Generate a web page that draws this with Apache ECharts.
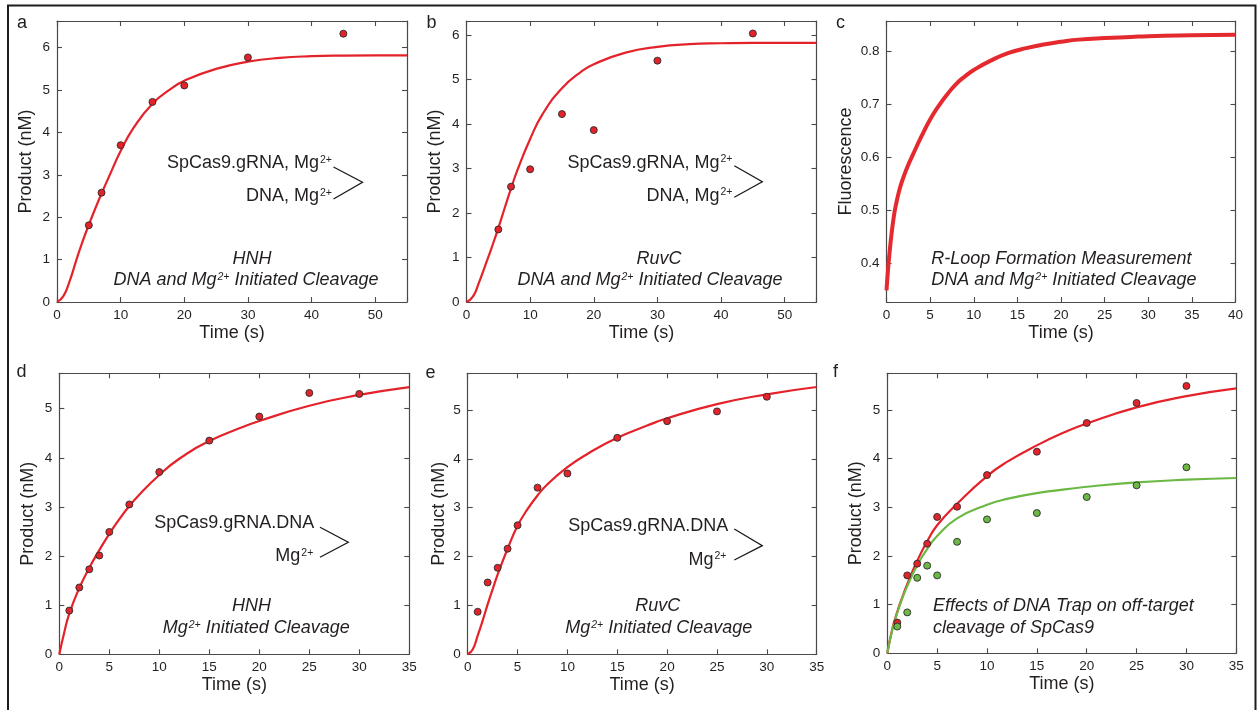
<!DOCTYPE html>
<html>
<head>
<meta charset="utf-8">
<script src="https://cdn.jsdelivr.net/npm/echarts@6/dist/echarts.min.js"></script>
<style>
  html, body { margin: 0; padding: 0; background: #ffffff; }
  #chart { width: 1258px; height: 710px; }
</style>
</head>
<body>
<div id="chart"></div>
<script>
// ---- a: HNH, DNA and Mg2+ initiated cleavage ----
const timeA = [5, 7, 10, 15, 20, 30, 45];
const prodA = [1.81, 2.58, 3.70, 4.72, 5.11, 5.77, 6.33];
const fitTimeA = [0, 1, 2, 3, 4, 5, 6, 7, 8, 10, 12, 15, 18, 20, 25, 30, 35, 40, 45, 50, 55];
const fitA = [0, 0.14, 0.50, 0.97, 1.42, 1.82, 2.20, 2.56, 2.90, 3.56, 4.10, 4.68, 5.04, 5.22, 5.50, 5.67, 5.76, 5.80, 5.815, 5.82, 5.82];

// ---- b: RuvC, DNA and Mg2+ initiated cleavage ----
const timeB = [5, 7, 10, 15, 20, 30, 45];
const prodB = [1.63, 2.59, 2.98, 4.22, 3.86, 5.42, 6.03];
const fitTimeB = [0, 1, 2, 3, 4, 5, 6, 7, 8, 10, 12, 15, 18, 20, 25, 30, 35, 40, 45, 50, 55];
const fitB = [0, 0.12, 0.45, 0.84, 1.24, 1.66, 2.11, 2.55, 2.96, 3.66, 4.23, 4.80, 5.17, 5.34, 5.60, 5.73, 5.79, 5.81, 5.82, 5.82, 5.82];

// ---- c: R-loop formation (fluorescence trace) ----
const timeC = [0, 0.2, 0.4, 0.6, 0.8, 1, 1.5, 2, 2.5, 3, 4, 5, 6, 7, 8, 9, 10, 12, 14, 16, 18, 20, 22, 25, 28, 30, 35, 40];
const fluorC = [0.350, 0.394, 0.429, 0.459, 0.484, 0.504, 0.540, 0.565, 0.586, 0.604, 0.639, 0.671, 0.697, 0.719, 0.738, 0.752, 0.764, 0.782, 0.796, 0.805, 0.812, 0.817, 0.821, 0.824, 0.826, 0.8275, 0.829, 0.830];

// ---- d: HNH, Mg2+ initiated cleavage ----
const timeD = [1, 2, 3, 4, 5, 7, 10, 15, 20, 25, 30];
const prodD = [0.89, 1.36, 1.73, 2.01, 2.49, 3.05, 3.71, 4.35, 4.84, 5.32, 5.30];
const fitTimeD = [0, 0.5, 1, 2, 3, 4, 5, 6, 7, 8, 10, 12, 15, 18, 20, 25, 30, 35];
const fitD = [0, 0.45, 0.83, 1.35, 1.76, 2.12, 2.45, 2.75, 3.02, 3.25, 3.65, 3.98, 4.34, 4.60, 4.75, 5.06, 5.28, 5.44];

// ---- e: RuvC, Mg2+ initiated cleavage ----
const timeE = [1, 2, 3, 4, 5, 7, 10, 15, 20, 25, 30];
const prodE = [0.87, 1.47, 1.77, 2.16, 2.64, 3.41, 3.70, 4.43, 4.77, 4.97, 5.27];
const fitTimeE = [0, 0.5, 1, 1.5, 2, 2.5, 3, 4, 5, 6, 7, 8, 10, 12, 15, 18, 20, 25, 30, 35];
const fitE = [0, 0.10, 0.38, 0.69, 1.02, 1.33, 1.63, 2.16, 2.63, 2.97, 3.25, 3.48, 3.83, 4.10, 4.43, 4.68, 4.83, 5.12, 5.32, 5.47];

// ---- f: DNA trap, off-target cleavage ----
const timeF = [1, 2, 3, 4, 5, 7, 10, 15, 20, 25, 30];
const prodF1 = [0.63, 1.60, 1.84, 2.25, 2.80, 3.01, 3.66, 4.14, 4.73, 5.14, 5.49];
const prodF2 = [0.55, 0.84, 1.55, 1.80, 1.60, 2.29, 2.75, 2.88, 3.21, 3.45, 3.82];
const fitTimeF = [0, 0.5, 1, 1.5, 2, 3, 4, 5, 7, 10, 12, 15, 18, 20, 25, 30, 35];
const fitF1 = [0, 0.50, 0.85, 1.15, 1.42, 1.90, 2.30, 2.63, 3.07, 3.64, 3.93, 4.27, 4.56, 4.72, 5.05, 5.28, 5.44];
const fitF2 = [0, 0.48, 0.83, 1.13, 1.38, 1.81, 2.14, 2.41, 2.77, 3.05, 3.17, 3.29, 3.37, 3.42, 3.51, 3.565, 3.60];

const FONT = '"Liberation Sans", Arial, Helvetica, sans-serif';
const INK = '#231f20';
const AXIS = '#4a4a4a';
const RED = '#e4222a';
const GREEN = '#6cb844';

const zip = (xs, ys) => xs.map((x, i) => [x, ys[i]]);

// label only the multiples of the tick step
function tickFmt(step, digits) {
  return function (v) {
    const k = Math.round(v / step);
    if (Math.abs(v - k * step) > 1e-6) return '';
    return digits ? (k * step).toFixed(digits) : String(Math.round(k * step));
  };
}

// panel frames (pixels) and axis ranges
const panels = [
  { left: 57,    top: 21,    width: 350, height: 281, x: [0, 55, 10], y: [0, 6.63, 1, 0], yName: 'Product (nM)', gap: 22 },
  { left: 466.5, top: 21,    width: 350, height: 281, x: [0, 55, 10], y: [0, 6.31, 1, 0], yName: 'Product (nM)', gap: 22 },
  { left: 886.5, top: 21,    width: 349, height: 281, x: [0, 40, 5],  y: [0.328, 0.856, 0.1, 1], yName: 'Fluorescence', gap: 31 },
  { left: 59.3,  top: 373.3, width: 350, height: 281, x: [0, 35, 5],  y: [0, 5.72, 1, 0], yName: 'Product (nM)', gap: 22 },
  { left: 467.7, top: 373.3, width: 349, height: 281, x: [0, 35, 5],  y: [0, 5.75, 1, 0], yName: 'Product (nM)', gap: 20 },
  { left: 887.3, top: 373.3, width: 349, height: 280, x: [0, 35, 5],  y: [0, 5.75, 1, 0], yName: 'Product (nM)', gap: 22 }
];

const grid = [], xAxis = [], yAxis = [];
const lineStyleAxis = { color: AXIS, width: 1.2 };
const tickStyle = { show: true, inside: true, length: 5, lineStyle: { color: AXIS, width: 1.1 } };
const labelStyle = { color: INK, fontSize: 13.5, fontFamily: FONT };

panels.forEach((p, i) => {
  grid.push({ left: p.left, top: p.top, width: p.width, height: p.height, containLabel: false });
  const xBase = {
    type: 'value', gridIndex: i, min: p.x[0], max: p.x[1], interval: p.x[2],
    axisLine: { show: true, onZero: false, lineStyle: lineStyleAxis },
    axisTick: tickStyle, splitLine: { show: false }
  };
  xAxis.push(Object.assign({}, xBase, {
    position: 'bottom',
    name: 'Time (s)', nameLocation: 'middle', nameGap: 22,
    nameTextStyle: { color: INK, fontSize: 18, fontFamily: FONT },
    axisLabel: Object.assign({ margin: 6, formatter: tickFmt(p.x[2], 0) }, labelStyle)
  }));
  xAxis.push(Object.assign({}, xBase, { position: 'top', axisLabel: { show: false } }));

  const yBase = {
    type: 'value', gridIndex: i, min: p.y[0], max: p.y[1],
    axisLine: { show: true, onZero: false, lineStyle: lineStyleAxis },
    axisTick: tickStyle, splitLine: { show: false }
  };
  if (p.y[0] === 0) yBase.interval = p.y[2];
  else { yBase.splitNumber = 5; yBase.minInterval = p.y[2]; yBase.maxInterval = p.y[2]; }
  yAxis.push(Object.assign({}, yBase, {
    position: 'left',
    name: p.yName, nameLocation: 'middle', nameGap: p.gap, nameRotate: 90,
    nameTextStyle: { color: INK, fontSize: 18, fontFamily: FONT },
    axisLabel: Object.assign({ margin: 7, formatter: tickFmt(p.y[2], p.y[3]) }, labelStyle)
  }));
  yAxis.push(Object.assign({}, yBase, { position: 'right', axisLabel: { show: false } }));
});

function fitLine(i, xs, ys, color, width) {
  return {
    type: 'line', xAxisIndex: 2 * i, yAxisIndex: 2 * i, data: zip(xs, ys),
    showSymbol: false, smooth: 0.5, clip: true, silent: true,
    lineStyle: { color: color, width: width || 2.2 }, z: 2
  };
}
function dots(i, xs, ys, color) {
  return {
    type: 'scatter', xAxisIndex: 2 * i, yAxisIndex: 2 * i, data: zip(xs, ys),
    symbol: 'circle', symbolSize: 7, silent: true,
    itemStyle: { color: color, borderColor: '#2b2b2b', borderWidth: 0.9, opacity: 1 }, z: 3
  };
}

const series = [
  fitLine(0, fitTimeA, fitA, RED), dots(0, timeA, prodA, RED),
  fitLine(1, fitTimeB, fitB, RED), dots(1, timeB, prodB, RED),
  fitLine(2, timeC, fluorC, '#e42a2e', 4),
  fitLine(3, fitTimeD, fitD, RED), dots(3, timeD, prodD, RED),
  fitLine(4, fitTimeE, fitE, RED), dots(4, timeE, prodE, RED),
  fitLine(5, fitTimeF, fitF1, RED), fitLine(5, fitTimeF, fitF2, GREEN),
  dots(5, timeF, prodF1, RED), dots(5, timeF, prodF2, GREEN)
];

// ---- annotations ----
const rich = {
  n: { fontSize: 18, fontFamily: FONT, color: INK },
  s: { fontSize: 10.5, fontFamily: FONT, color: INK, verticalAlign: 'top', padding: [0, 0, 0, 1] },
  i: { fontSize: 18, fontFamily: FONT, color: INK, fontStyle: 'italic' },
  is: { fontSize: 10.5, fontFamily: FONT, color: INK, fontStyle: 'italic', verticalAlign: 'top', padding: [0, 0, 0, 1] }
};
function txt(x, y, text, align) {
  return {
    type: 'text', x: x, y: y, z: 10, silent: true,
    style: { text: text, rich: rich, align: align, verticalAlign: 'middle', textAlign: align, textVerticalAlign: 'middle', fill: INK, font: '18px ' + FONT }
  };
}
function bracket(pts) {
  return {
    type: 'polyline', z: 10, silent: true,
    shape: { points: pts },
    style: { stroke: '#1a1a1a', lineWidth: 1.3, fill: null }
  };
}
function letter(x, y, t) {
  return {
    type: 'text', x: x, y: y, z: 10, silent: true,
    style: { text: t, fill: INK, font: '18px ' + FONT, textAlign: 'left', textVerticalAlign: 'middle' }
  };
}

const graphic = [
  { type: 'rect', z: 0, silent: true, shape: { x: 8, y: 5.5, width: 1247.5, height: 730 },
    style: { fill: null, stroke: '#1c1c1c', lineWidth: 2 } },
  letter(17, 23, 'a'), letter(426.5, 23, 'b'), letter(836, 23, 'c'),
  letter(16.5, 372, 'd'), letter(425.5, 373, 'e'), letter(833, 372, 'f'),

  // a
  txt(332, 163.5, '{n|SpCas9.gRNA, Mg}{s|2+}', 'right'),
  txt(332, 196.3, '{n|DNA, Mg}{s|2+}', 'right'),
  bracket([[333.5, 167], [362.5, 182.3], [333.5, 199]]),
  txt(252, 258.8, '{i|HNH}', 'center'),
  txt(246, 280.3, '{i|DNA and Mg}{is|2+}{i| Initiated Cleavage}', 'center'),

  // b
  txt(732.5, 163, '{n|SpCas9.gRNA, Mg}{s|2+}', 'right'),
  txt(732.5, 195.7, '{n|DNA, Mg}{s|2+}', 'right'),
  bracket([[734.3, 165.7], [762.3, 181.7], [734.3, 197.3]]),
  txt(659, 258.5, '{i|RuvC}', 'center'),
  txt(650, 280.3, '{i|DNA and Mg}{is|2+}{i| Initiated Cleavage}', 'center'),

  // c
  txt(931.3, 258.8, '{i|R-Loop Formation Measurement}', 'left'),
  txt(931.3, 280.3, '{i|DNA and Mg}{is|2+}{i| Initiated Cleavage}', 'left'),

  // d
  txt(314.3, 522.8, '{n|SpCas9.gRNA.DNA}', 'right'),
  txt(313.3, 556.3, '{n|Mg}{s|2+}', 'right'),
  bracket([[320, 527.3], [348.3, 542.3], [320, 557.3]]),
  txt(251.5, 606.2, '{i|HNH}', 'center'),
  txt(256.2, 628.3, '{i|Mg}{is|2+}{i| Initiated Cleavage}', 'center'),

  // e
  txt(728.3, 526.2, '{n|SpCas9.gRNA.DNA}', 'right'),
  txt(726.5, 560, '{n|Mg}{s|2+}', 'right'),
  bracket([[734.3, 529], [762.3, 545.7], [734.3, 560]]),
  txt(657.8, 606.2, '{i|RuvC}', 'center'),
  txt(658.7, 628.3, '{i|Mg}{is|2+}{i| Initiated Cleavage}', 'center'),

  // f
  txt(933, 606.2, '{i|Effects of DNA Trap on off-target}', 'left'),
  txt(933, 628.3, '{i|cleavage of SpCas9}', 'left')
];

const chart = echarts.init(document.getElementById('chart'), null, { renderer: 'canvas' });
chart.setOption({
  animation: false,
  backgroundColor: '#ffffff',
  textStyle: { fontFamily: FONT },
  grid: grid,
  xAxis: xAxis,
  yAxis: yAxis,
  series: series,
  graphic: graphic
});
</script>
</body>
</html>
